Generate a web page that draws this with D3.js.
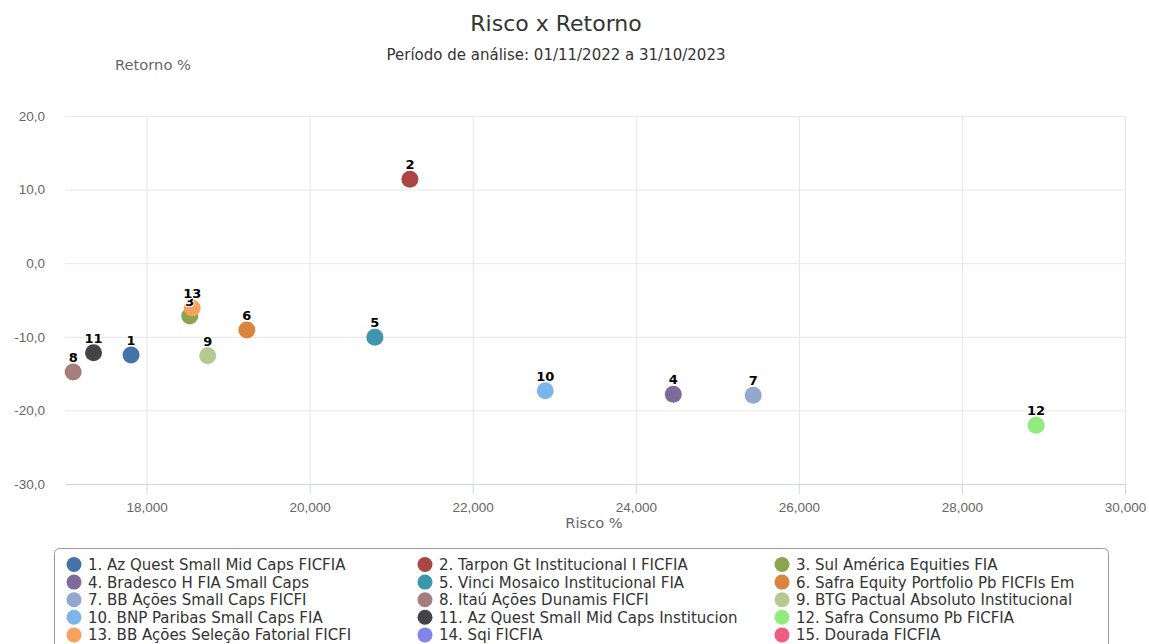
<!DOCTYPE html>
<html>
<head>
<meta charset="utf-8">
<script src="https://cdn.jsdelivr.net/npm/d3@7"></script>
<style>
  body { margin: 0; background: #fff; }
  svg { font-family: "DejaVu Sans", sans-serif; display: block; }
  .grid line { stroke: #e6e6e6; }
  .grid path { display: none; }
  .axis text { fill: #666; font-size: 13.5px; }
</style>
</head>
<body>
<div id="chart"></div>
<script>
// fund names, in series order
var funds = ["Az Quest Small Mid Caps FICFIA", "Tarpon Gt Institucional I FICFIA", "Sul América Equities FIA",
             "Bradesco H FIA Small Caps", "Vinci Mosaico Institucional FIA", "Safra Equity Portfolio Pb FICFIs Em",
             "BB Ações Small Caps FICFI", "Itaú Ações Dunamis FICFI", "BTG Pactual Absoluto Institucional",
             "BNP Paribas Small Caps FIA", "Az Quest Small Mid Caps Institucion", "Safra Consumo Pb FICFIA",
             "BB Ações Seleção Fatorial FICFI", "Sqi FICFIA", "Dourada FICFIA"];

// risco % (x) and retorno % (y); null = no point drawn
var risco   = [17.81, 21.23, 18.53, 24.46, 20.80, 19.23, 25.44, 17.10, 18.75, 22.89, 17.35, 28.91, 18.56, null, null];
var retorno = [-12.47, 11.40, -7.17, -17.81, -10.07, -9.08, -17.95, -14.78, -12.57, -17.32, -12.16, -22.02, -6.09, null, null];

var colors = ["#4572A7", "#AA4643", "#89A54E", "#80699B", "#3D96AE", "#DB843D", "#92A8CD", "#A47D7C", "#B5CA92",
              "#7cb5ec", "#434348", "#90ed7d", "#f7a35c", "#8085e9", "#f15c80"];

var xTicks = [18, 20, 22, 24, 26, 28, 30];
var yTicks = [-30, -20, -10, 0, 10, 20];

var width = 1149, height = 644;
var plotLeft = 65, plotRight = 1125, plotTop = 116, plotBottom = 484;

var svg = d3.select("#chart").append("svg")
            .attr("width", width)
            .attr("height", height);

var x = d3.scaleLinear().domain([17, 30]).range([plotLeft, plotRight]);
var y = d3.scaleLinear().domain([-30, 20]).range([plotBottom, plotTop]);

var fmtX = function(d) { return d3.format(".3f")(d).replace(".", ","); };
var fmtY = function(d) { return d3.format(".1f")(d).replace(".", ",").replace("−", "-"); };

// titles
svg.append("text").attr("x", 556).attr("y", 31).attr("text-anchor", "middle")
   .style("font-size", "22px").style("fill", "#333").text("Risco x Retorno");
svg.append("text").attr("x", 556).attr("y", 60).attr("text-anchor", "middle")
   .style("font-size", "15px").style("fill", "#333").text("Período de análise: 01/11/2022 a 31/10/2023");
svg.append("text").attr("x", 153).attr("y", 70).attr("text-anchor", "middle")
   .style("font-size", "14.7px").style("fill", "#666").text("Retorno %");

// grid
svg.append("g").attr("class", "grid")
   .attr("transform", "translate(" + plotLeft + ",0)")
   .call(d3.axisLeft(y).tickValues(yTicks.filter(function(d) { return d > -30; }))
           .tickSize(-(plotRight - plotLeft)).tickFormat(""));
svg.append("g").attr("class", "grid")
   .attr("transform", "translate(0," + plotBottom + ")")
   .call(d3.axisBottom(x).tickValues(xTicks).tickSize(-(plotBottom - plotTop)).tickFormat(""));

// x axis
var xAxis = svg.append("g").attr("class", "axis")
   .attr("transform", "translate(0," + plotBottom + ")")
   .call(d3.axisBottom(x).tickValues(xTicks).tickSize(10).tickSizeOuter(0).tickPadding(8).tickFormat(fmtX));
xAxis.select(".domain").attr("stroke", "#ccd6eb");
xAxis.selectAll(".tick line").attr("stroke", "#ccd6eb");

svg.append("text").attr("x", 594).attr("y", 528).attr("text-anchor", "middle")
   .style("font-size", "14.7px").style("fill", "#666").text("Risco %");

// y axis labels
var yAxis = svg.append("g").attr("class", "axis")
   .attr("transform", "translate(" + plotLeft + ",0)")
   .call(d3.axisLeft(y).tickValues(yTicks).tickSize(0).tickPadding(20).tickFormat(fmtY));
yAxis.select(".domain").remove();

var points = funds.map(function(name, i) {
  return { n: i + 1, x: risco[i], y: retorno[i], color: colors[i] };
}).filter(function(d) { return d.x !== null; });

// markers first, labels on top of all markers
svg.append("g").selectAll("circle").data(points).enter().append("circle")
      .attr("cx", function(d) { return x(d.x); })
      .attr("cy", function(d) { return y(d.y); })
      .attr("r", 8.5)
      .attr("fill", function(d) { return d.color; });

svg.append("g").selectAll("text").data(points).enter().append("text")
      .attr("x", function(d) { return x(d.x); })
      .attr("y", function(d) { return y(d.y) - 10; })
      .attr("text-anchor", "middle")
      .style("font-size", "13px").style("font-weight", "bold")
      .style("fill", "#000").style("stroke", "#fff").style("stroke-width", "2px")
      .style("paint-order", "stroke")
      .text(function(d) { return d.n; });

// legend
var legend = svg.append("g");
legend.append("rect")
      .attr("x", 54.5).attr("y", 548.5).attr("width", 1054).attr("height", 110)
      .attr("rx", 5).attr("fill", "none").attr("stroke", "#999");

var colX = [74, 425, 782];
var items = legend.selectAll(".item").data(funds).enter().append("g")
      .attr("transform", function(d, i) {
        return "translate(" + colX[i % 3] + "," + (564.5 + Math.floor(i / 3) * 17.6) + ")";
      });
items.append("circle").attr("r", 7.5).attr("fill", function(d, i) { return colors[i]; });
items.append("text").attr("x", 14).attr("y", 5.5)
     .style("font-size", "15px").style("fill", "#333")
     .text(function(d, i) { return (i + 1) + ". " + d; });
</script>
</body>
</html>
